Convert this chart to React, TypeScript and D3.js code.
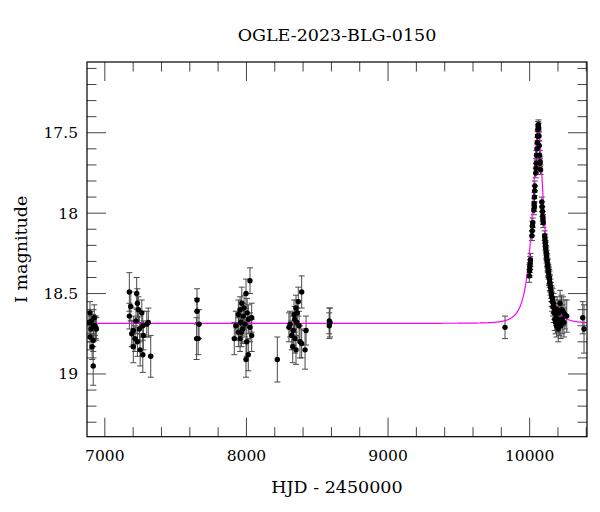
import React from "react";
import * as d3 from "d3";

// ---- Data (HJD-2450000, I mag, error) ----
const season1T = [6895, 6905, 6918, 6902, 6930, 6895, 6918, 6910, 6918, 6935, 6888, 6925, 6940];
const season1M = [18.62, 18.67, 18.70, 18.72, 18.70, 18.77, 18.79, 18.83, 18.95, 18.71, 18.68, 18.65, 18.72];
const season1E = [0.07, 0.06, 0.07, 0.08, 0.06, 0.08, 0.07, 0.08, 0.12, 0.07, 0.07, 0.08, 0.07];

const season2T = [7173, 7183, 7173, 7225, 7230, 7237, 7220, 7201, 7213, 7230, 7249, 7261, 7268, 7272, 7268, 7296, 7307, 7324, 7244, 7201, 7190];
const season2M = [18.49, 18.58, 18.64, 18.50, 18.56, 18.60, 18.67, 18.73, 18.78, 18.80, 18.85, 18.62, 18.70, 18.76, 18.88, 18.69, 18.68, 18.89, 18.72, 18.83, 18.75];
const season2E = [0.12, 0.09, 0.08, 0.10, 0.09, 0.08, 0.08, 0.09, 0.08, 0.09, 0.10, 0.08, 0.09, 0.09, 0.11, 0.08, 0.09, 0.13, 0.08, 0.10, 0.08];

const season3T = [7651, 7651, 7665, 7648, 7659];
const season3M = [18.54, 18.61, 18.69, 18.78, 18.78];
const season3E = [0.07, 0.08, 0.09, 0.13, 0.10];

const season4T = [8025, 7997, 7967, 7955, 7943, 7978, 8013, 7960, 7990, 8025, 7974, 8037, 7914, 7955, 8002, 8013, 7997, 7943, 7983, 8037, 7925, 7965, 8005, 8218];
const season4M = [18.42, 18.50, 18.56, 18.60, 18.63, 18.64, 18.66, 18.68, 18.69, 18.71, 18.72, 18.76, 18.78, 18.78, 18.80, 18.88, 18.91, 18.74, 18.59, 18.65, 18.70, 18.74, 18.62, 18.91];
const season4E = [0.08, 0.09, 0.10, 0.08, 0.09, 0.08, 0.09, 0.08, 0.08, 0.09, 0.09, 0.10, 0.10, 0.08, 0.09, 0.10, 0.11, 0.09, 0.08, 0.09, 0.09, 0.09, 0.09, 0.14];

const season5T = [8390, 8366, 8350, 8336, 8308, 8355, 8331, 8343, 8327, 8350, 8378, 8421, 8414, 8390, 8320, 8359, 8340, 8372, 8300, 8585, 8585, 8590];
const season5M = [18.49, 18.55, 18.59, 18.63, 18.69, 18.68, 18.73, 18.78, 18.83, 18.85, 18.80, 18.73, 18.85, 18.81, 18.76, 18.62, 18.66, 18.70, 18.71, 18.67, 18.70, 18.68];
const season5E = [0.10, 0.09, 0.08, 0.09, 0.08, 0.09, 0.09, 0.09, 0.10, 0.09, 0.10, 0.09, 0.12, 0.09, 0.09, 0.08, 0.08, 0.09, 0.09, 0.08, 0.08, 0.09];

const eventT = [9826,
  9997, 9999, 10001, 10002, 10004, 10006,
  10016, 10018, 10020, 10022,
  10030, 10032, 10033, 10034, 10036, 10037,
  10043, 10045, 10047, 10049, 10052, 10054, 10056, 10058, 10060, 10062, 10064, 10066, 10068, 10070, 10072, 10074, 10077,
  10086, 10088, 10090, 10092, 10094, 10096,
  10106, 10108, 10110, 10112, 10114, 10116, 10118, 10120, 10122, 10124, 10126, 10128, 10130, 10132, 10134, 10136, 10138, 10140, 10142, 10144,
  10147, 10150, 10153, 10156, 10159, 10162, 10165, 10168, 10171, 10174, 10177, 10180, 10183, 10186, 10190, 10194, 10198, 10202, 10206, 10210, 10215, 10220, 10225, 10230, 10236, 10242, 10249, 10262,
  10375, 10384];
const eventM = [18.71,
  18.39, 18.36, 18.35, 18.33, 18.31, 18.29,
  18.14, 18.11, 18.08, 18.06,
  17.98, 17.94, 17.96, 17.90, 17.86, 17.83,
  17.75, 17.72, 17.69, 17.64, 17.60, 17.56, 17.52, 17.48, 17.46, 17.45, 17.47, 17.52, 17.58, 17.64, 17.69, 17.68, 17.73,
  17.93, 17.96, 17.99, 18.02, 18.04, 18.06,
  18.14, 18.16, 18.18, 18.20, 18.22, 18.24, 18.25, 18.27, 18.29, 18.30, 18.32, 18.33, 18.35, 18.36, 18.37, 18.39, 18.40, 18.41, 18.43, 18.44,
  18.46, 18.48, 18.50, 18.52, 18.55, 18.53, 18.58, 18.56, 18.62, 18.59, 18.66, 18.61, 18.68, 18.63, 18.70, 18.60, 18.66, 18.72, 18.62, 18.68, 18.56, 18.70, 18.60, 18.66, 18.61, 18.68, 18.63, 18.64,
  18.65, 18.72];
const eventE = [0.07,
  0.04, 0.04, 0.04, 0.04, 0.04, 0.04,
  0.03, 0.03, 0.03, 0.03,
  0.03, 0.03, 0.03, 0.03, 0.03, 0.03,
  0.03, 0.03, 0.03, 0.03, 0.03, 0.03, 0.03, 0.03, 0.03, 0.03, 0.03, 0.03, 0.03, 0.03, 0.03, 0.03, 0.03,
  0.03, 0.03, 0.03, 0.03, 0.03, 0.03,
  0.03, 0.03, 0.03, 0.03, 0.04, 0.04, 0.04, 0.04, 0.04, 0.04, 0.04, 0.04, 0.04, 0.04, 0.04, 0.05, 0.05, 0.05, 0.05, 0.05,
  0.05, 0.05, 0.05, 0.06, 0.06, 0.06, 0.06, 0.06, 0.06, 0.07, 0.07, 0.07, 0.07, 0.07, 0.07, 0.08, 0.08, 0.08, 0.08, 0.08, 0.08, 0.08, 0.09, 0.09, 0.09, 0.09, 0.09, 0.10,
  0.10, 0.15];

// ---- Model parameters (Paczynski) ----
const modelT0 = 10060;
const modelTE = 68;
const modelU0 = 0.453;
const modelFs = 1.5;
const modelBase = 18.685;

const xDomain = [6874, 10405];
const yDomain = [17.06, 19.39];
const xMajorTicks = [7000, 8000, 9000, 10000];
const yMajorTicks = [17.5, 18, 18.5, 19];
const yTickLabels = ["17.5", "18", "18.5", "19"];

const title = "OGLE-2023-BLG-0150";
const xTitle = "HJD - 2450000";
const yTitle = "I magnitude";

function modelMag(t: number) {
  const tau = (t - modelT0) / modelTE;
  const u = Math.sqrt(modelU0 * modelU0 + tau * tau);
  const A = (u * u + 2) / (u * Math.sqrt(u * u + 4));
  return modelBase - 2.5 * Math.log10(modelFs * A + 1 - modelFs);
}

export default function App() {
  const W = 600, H = 512;
  const L = 87, R = 587, T = 62, B = 436.7;
  const x = d3.scaleLinear().domain(xDomain).range([L, R]);
  const y = d3.scaleLinear().domain(yDomain).range([T, B]);

  const pts: { t: number; m: number; e: number }[] = [];
  const add = (ts: number[], ms: number[], es: number[]) =>
    ts.forEach((t, i) => pts.push({ t, m: ms[i], e: es[i] }));
  add(season1T, season1M, season1E);
  add(season2T, season2M, season2E);
  add(season3T, season3M, season3E);
  add(season4T, season4M, season4E);
  add(season5T, season5M, season5E);
  add(eventT, eventM, eventE);

  const modelTs = d3.range(xDomain[0], xDomain[1] + 0.5, 0.5);
  const line = d3
    .line<number>()
    .x((t) => x(t))
    .y((t) => y(modelMag(t)));

  const xMinor = d3.range(7000, 10401, 200).filter((v) => v % 1000 !== 0);
  const yMinor = d3.range(171, 194, 1).map((v) => v / 10).filter((v) => Math.abs(v * 2 - Math.round(v * 2)) > 1e-6);

  const major = 19, minor = 9.5;
  const tickColor = "#444";
  const font = "'DejaVu Serif', serif";

  return (
    <svg width={W} height={H} style={{ position: "absolute", left: 0, top: 0, background: "#fff" }}>
      <rect x={0} y={0} width={W} height={H} fill="#fff" />
      <defs>
        <clipPath id="plotclip">
          <rect x={L} y={T} width={R - L} height={B - T} />
        </clipPath>
      </defs>
      {/* ticks */}
      <g stroke={tickColor} strokeWidth={1}>
        {xMajorTicks.map((v) => (
          <g key={"xm" + v}>
            <line x1={x(v)} x2={x(v)} y1={B} y2={B - major} />
            <line x1={x(v)} x2={x(v)} y1={T} y2={T + major} />
          </g>
        ))}
        {xMinor.map((v) => (
          <g key={"xn" + v}>
            <line x1={x(v)} x2={x(v)} y1={B} y2={B - minor} />
            <line x1={x(v)} x2={x(v)} y1={T} y2={T + minor} />
          </g>
        ))}
        {yMajorTicks.map((v) => (
          <g key={"ym" + v}>
            <line x1={L} x2={L + major} y1={y(v)} y2={y(v)} />
            <line x1={R} x2={R - major} y1={y(v)} y2={y(v)} />
          </g>
        ))}
        {yMinor.map((v) => (
          <g key={"yn" + v}>
            <line x1={L} x2={L + minor} y1={y(v)} y2={y(v)} />
            <line x1={R} x2={R - minor} y1={y(v)} y2={y(v)} />
          </g>
        ))}
      </g>
      <g clipPath="url(#plotclip)">
        {/* error bars */}
        <g stroke="#4a4a4a" strokeWidth={1}>
          {pts.map((p, i) => {
            const cx = x(p.t);
            const y1 = y(p.m - p.e), y2 = y(p.m + p.e);
            return (
              <g key={"e" + i}>
                <line x1={cx} x2={cx} y1={y1} y2={y2} />
                <line x1={cx - 3} x2={cx + 3} y1={y1} y2={y1} />
                <line x1={cx - 3} x2={cx + 3} y1={y2} y2={y2} />
              </g>
            );
          })}
        </g>
        <path d={line(modelTs) || ""} fill="none" stroke="#ff00ff" strokeWidth={1.2} />
        {pts.map((p, i) => (
          <circle key={"p" + i} cx={x(p.t)} cy={y(p.m)} r={2.7} fill="#000" />
        ))}
      </g>
      <rect x={L} y={T} width={R - L} height={B - T} fill="none" stroke="#000" strokeWidth={1.2} />
      {/* tick labels */}
      <g fontFamily={font} fontSize={15.5} fill="#000">
        {xMajorTicks.map((v) => (
          <text key={"xl" + v} x={x(v)} y={B + 24} textAnchor="middle">
            {String(v)}
          </text>
        ))}
        {yMajorTicks.map((v, i) => (
          <text key={"yl" + v} x={L - 9} y={y(v) + 5.5} textAnchor="end">
            {yTickLabels[i]}
          </text>
        ))}
      </g>
      <text x={(L + R) / 2} y={41} textAnchor="middle" fontFamily={font} fontSize={17.5}>
        {title}
      </text>
      <text x={(L + R) / 2} y={493} textAnchor="middle" fontFamily={font} fontSize={17.5}>
        {xTitle}
      </text>
      <text
        transform={`translate(27, ${(T + B) / 2}) rotate(-90)`}
        textAnchor="middle"
        fontFamily={font}
        fontSize={17.5}
      >
        {yTitle}
      </text>
    </svg>
  );
}
